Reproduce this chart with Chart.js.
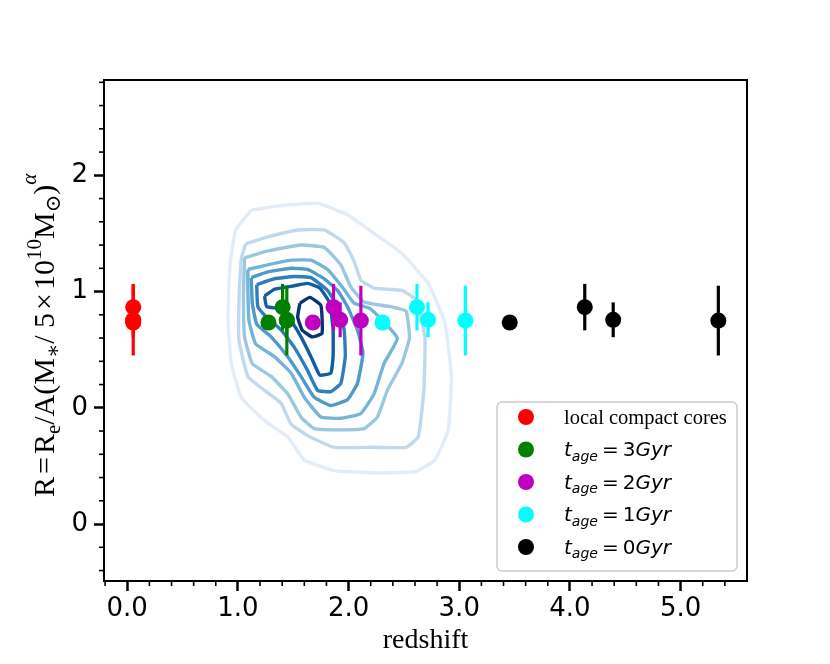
<!DOCTYPE html>
<html><head><meta charset="utf-8">
<script src="https://cdn.jsdelivr.net/npm/chart.js@4.4.1/dist/chart.umd.min.js"></script>
<style>html,body{margin:0;padding:0;background:#fff}canvas{display:block}</style>
</head><body>
<canvas id="c" width="830" height="664"></canvas>
<script>
// ---------- data ----------
const xTickValues = [0, 1, 2, 3, 4, 5];
const xTickLabels = ['0.0', '1.0', '2.0', '3.0', '4.0', '5.0'];
const yTickValues = [-1, 0, 1, 2];
const yTickLabels = ['0', '0', '1', '2'];

const seriesNames = ['local compact cores', 't_age = 3Gyr', 't_age = 2Gyr', 't_age = 1Gyr', 't_age = 0Gyr'];
const seriesAges = [null, 3, 2, 1, 0];

const localX = [0.054, 0.054, 0.054, 0.054];
const localY = [0.734, 0.866, 0.757, 0.750];
const localErr = [0, 0.20, 0.15, 0.30];

const age3X = [1.276, 1.404, 1.442, 1.442];
const age3Y = [0.734, 0.866, 0.757, 0.750];
const age3Err = [0, 0.20, 0.15, 0.30];

const age2X = [1.677, 1.864, 1.924, 2.111];
const age2Y = [0.734, 0.866, 0.757, 0.750];
const age2Err = [0, 0.20, 0.15, 0.30];

const age1X = [2.307, 2.618, 2.718, 3.055];
const age1Y = [0.734, 0.866, 0.757, 0.750];
const age1Err = [0, 0.20, 0.15, 0.30];

const age0X = [3.456, 4.134, 4.391, 5.341];
const age0Y = [0.734, 0.866, 0.757, 0.750];
const age0Err = [0, 0.20, 0.15, 0.30];

// density contours (outermost -> innermost), [redshift, R]
const contour0 = [[1.12,1.70],[1.39,1.74],[1.72,1.76],[1.99,1.66],[2.23,1.50],[2.48,1.33],[2.72,1.07],[2.87,0.73],[2.93,0.27],[2.90,-0.19],[2.78,-0.45],[2.60,-0.55],[2.23,-0.56],[1.87,-0.54],[1.60,-0.45],[1.45,-0.25],[1.24,-0.11],[1.03,0.09],[0.94,0.38],[0.91,0.78],[0.93,1.24],[0.98,1.53],[1.12,1.70]];
const contour1 = [[1.07,1.41],[1.27,1.47],[1.54,1.53],[1.78,1.53],[1.96,1.42],[2.05,1.26],[2.11,1.10],[2.23,1.03],[2.48,1.01],[2.61,0.93],[2.69,0.61],[2.68,0.15],[2.63,-0.25],[2.52,-0.34],[2.23,-0.34],[1.87,-0.34],[1.65,-0.25],[1.48,-0.14],[1.39,0.04],[1.24,0.15],[1.09,0.27],[1.01,0.58],[1.01,0.93],[1.03,1.28],[1.07,1.41]];
const contour2 = [[1.06,1.29],[1.27,1.35],[1.57,1.40],[1.78,1.38],[1.93,1.23],[2.02,1.04],[2.14,0.91],[2.38,0.87],[2.52,0.83],[2.55,0.60],[2.48,0.38],[2.35,0.15],[2.26,-0.08],[2.14,-0.18],[1.93,-0.19],[1.69,-0.18],[1.57,-0.08],[1.45,0.12],[1.30,0.27],[1.13,0.38],[1.06,0.61],[1.05,0.96],[1.06,1.29]];
const contour3 = [[1.09,1.19],[1.27,1.23],[1.48,1.27],[1.66,1.27],[1.81,1.19],[1.95,1.03],[2.05,0.90],[2.20,0.85],[2.44,0.60],[2.32,0.38],[2.23,0.12],[2.11,-0.05],[1.93,-0.09],[1.75,-0.08],[1.60,0.09],[1.48,0.30],[1.33,0.44],[1.16,0.55],[1.10,0.75],[1.09,1.01],[1.09,1.19]];
const contour4 = [[1.12,1.12],[1.27,1.17],[1.48,1.20],[1.63,1.19],[1.78,1.11],[1.90,1.01],[1.99,0.87],[2.08,0.67],[2.13,0.47],[2.08,0.21],[1.99,0.07],[1.84,0.02],[1.69,0.09],[1.57,0.27],[1.45,0.44],[1.30,0.61],[1.17,0.72],[1.13,0.90],[1.12,1.12]];
const contour5 = [[1.17,1.06],[1.33,1.11],[1.51,1.13],[1.66,1.12],[1.81,1.01],[1.90,0.87],[1.96,0.67],[1.97,0.44],[1.93,0.21],[1.84,0.14],[1.72,0.15],[1.63,0.32],[1.51,0.52],[1.39,0.67],[1.26,0.78],[1.18,0.87],[1.17,1.06]];
const contour6 = [[1.24,0.96],[1.33,1.02],[1.51,1.05],[1.63,1.07],[1.74,1.03],[1.83,0.90],[1.86,0.67],[1.86,0.44],[1.84,0.30],[1.74,0.28],[1.66,0.44],[1.57,0.61],[1.48,0.75],[1.39,0.85],[1.26,0.87],[1.24,0.96]];
const contour7 = [[1.56,0.90],[1.65,0.95],[1.75,0.88],[1.76,0.64],[1.67,0.61],[1.58,0.67],[1.54,0.78],[1.56,0.90]];

// y-axis title pieces: [text, 0=normal 1=subscript 2=superscript 3=operator]
const yTitleParts = [['R',0],['=',3],['R',0],['e',1],['/A(M',0],['\u2217',1],['/ 5',0],['\u00d7',3],['10',0],['10',2],['M',0],['\u2299',1],[')',0],['\u03b1',2]];

// ---------- styles ----------
const seriesColors = ['#ff0000', '#008000', '#bf00bf', '#00ffff', '#000000'];
const contourColors = ['#e2edf8', '#c1d9ee', '#9cc7e1', '#76b3d8', '#4e9acb', '#2f7ebb', '#135ca3', '#0a3370'];

const pointSets = [
  [localX, localY, localErr], [age3X, age3Y, age3Err], [age2X, age2Y, age2Err],
  [age1X, age1Y, age1Err], [age0X, age0Y, age0Err]
];
const contours = [contour0, contour1, contour2, contour3, contour4, contour5, contour6, contour7];

const datasets = [];
pointSets.forEach((s, i) => {
  datasets.push({
    label: seriesNames[i],
    data: s[0].map((x, j) => ({x: x, y: s[1][j]})),
    yErr: s[2],
    backgroundColor: seriesColors[i],
    borderColor: seriesColors[i],
    pointRadius: 8, pointHoverRadius: 8, pointBorderWidth: 0,
    showLine: false, order: 0
  });
});
contours.forEach((c, i) => {
  datasets.push({
    label: 'contour' + i,
    data: c.map(p => ({x: p[0], y: p[1]})),
    borderColor: contourColors[i],
    backgroundColor: contourColors[i],
    borderWidth: 3.4, pointRadius: 0, showLine: true, fill: false,
    tension: 0.12, borderJoinStyle: 'round', order: 20 - i
  });
});

// ---------- plugins ----------
const errorBars = {
  id: 'errorBars',
  beforeDatasetDraw(chart, args) {
    const ds = chart.data.datasets[args.index];
    if (!ds.yErr) return;
    const ctx = chart.ctx, xs = chart.scales.x, ys = chart.scales.y;
    ctx.save();
    ctx.strokeStyle = ds.borderColor;
    ctx.lineWidth = 3.2;
    ds.data.forEach((p, j) => {
      const e = ds.yErr[j];
      if (!e) return;
      const px = xs.getPixelForValue(p.x);
      ctx.beginPath();
      ctx.moveTo(px, ys.getPixelForValue(p.y - e));
      ctx.lineTo(px, ys.getPixelForValue(p.y + e));
      ctx.stroke();
    });
    ctx.restore();
  }
};

const frameAndMinor = {
  id: 'frameAndMinor',
  afterDraw(chart) {
    const ctx = chart.ctx, a = chart.chartArea, xs = chart.scales.x, ys = chart.scales.y;
    ctx.save();
    ctx.strokeStyle = '#000';
    ctx.lineWidth = 1.6;
    for (let k = -1; k <= 28; k++) {
      const v = k * 0.2;
      if (Math.abs(v - Math.round(v)) < 1e-6) continue;
      if (v < xs.min || v > xs.max) continue;
      const px = xs.getPixelForValue(v);
      ctx.beginPath(); ctx.moveTo(px, a.bottom); ctx.lineTo(px, a.bottom + 5); ctx.stroke();
    }
    for (let k = -8; k <= 15; k++) {
      const v = k * 0.2;
      if (Math.abs(v - Math.round(v)) < 1e-6) continue;
      if (v < ys.min || v > ys.max) continue;
      const py = ys.getPixelForValue(v);
      ctx.beginPath(); ctx.moveTo(a.left, py); ctx.lineTo(a.left - 5, py); ctx.stroke();
    }
    ctx.lineWidth = 2;
    ctx.strokeRect(a.left, a.top, a.right - a.left, a.bottom - a.top);
    ctx.restore();
  }
};

const yTitle = {
  id: 'yTitle',
  afterDraw(chart) {
    const ctx = chart.ctx;
    ctx.save();
    ctx.translate(54, 497);
    ctx.rotate(-Math.PI / 2);
    ctx.fillStyle = '#000';
    ctx.textBaseline = 'alphabetic';
    const S = 30, s = 21;
    let x = 0;
    yTitleParts.forEach(([t, k]) => {
      const size = (k === 1 || k === 2) ? s : S;
      const ital = t === '\u03b1' ? 'italic ' : '';
      ctx.font = ital + size + 'px "Liberation Serif", "DejaVu Serif", serif';
      const dy = k === 1 ? 6 : (k === 2 ? (t === '\u03b1' ? -18 : -13) : 0);
      if (k === 3) x += S * 0.1;
      ctx.fillText(t, x, dy);
      x += ctx.measureText(t).width;
      if (k === 3) x += S * 0.1;
    });
    ctx.restore();
  }
};

const legendBox = {
  id: 'legendBox',
  afterDraw(chart) {
    const ctx = chart.ctx, a = chart.chartArea;
    const w = 240, h = 169;
    const x0 = a.right - 10 - w, y0 = a.bottom - 10 - h;
    ctx.save();
    ctx.beginPath();
    if (ctx.roundRect) ctx.roundRect(x0, y0, w, h, 5); else ctx.rect(x0, y0, w, h);
    ctx.fillStyle = 'rgba(255,255,255,0.9)';
    ctx.fill();
    ctx.strokeStyle = '#cccccc';
    ctx.lineWidth = 1.5;
    ctx.stroke();
    ctx.textBaseline = 'alphabetic';
    seriesNames.forEach((name, i) => {
      const cy = y0 + 15 + i * 32.5;
      ctx.beginPath();
      ctx.arc(x0 + 29, cy, 8, 0, Math.PI * 2);
      ctx.fillStyle = seriesColors[i];
      ctx.fill();
      ctx.fillStyle = '#000';
      const b = cy + 6.8;
      let x = x0 + 67;
      if (seriesAges[i] === null) {
        ctx.font = '20.5px "Liberation Serif", serif';
        ctx.fillText(name, x, b);
      } else {
        ctx.font = 'italic 20px "DejaVu Sans"';
        ctx.fillText('t', x, b); x += ctx.measureText('t').width;
        ctx.font = 'italic 14px "DejaVu Sans"';
        ctx.fillText('age', x, b + 4.5); x += ctx.measureText('age').width + 4;
        ctx.font = '20px "DejaVu Sans"';
        ctx.fillText('=', x, b); x += ctx.measureText('=').width + 4;
        const d = String(seriesAges[i]);
        ctx.fillText(d, x, b); x += ctx.measureText(d).width;
        ctx.font = 'italic 20px "DejaVu Sans"';
        ctx.fillText('Gyr', x, b);
      }
    });
    ctx.restore();
  }
};

// ---------- chart ----------
const tickFont = {family: 'DejaVu Sans', size: 26};
new Chart(document.getElementById('c'), {
  type: 'scatter',
  data: {datasets: datasets},
  options: {
    responsive: false, animation: false, devicePixelRatio: 1,
    layout: {padding: {left: 0, top: 80, right: 83, bottom: 0}},
    plugins: {legend: {display: false}, tooltip: {enabled: false}},
    scales: {
      x: {
        type: 'linear', min: -0.21, max: 5.6,
        afterBuildTicks: s => { s.ticks = xTickValues.map(v => ({value: v})); },
        afterFit: s => { s.height = 83; },
        ticks: {font: tickFont, color: '#000', padding: 3, autoSkip: false, maxRotation: 0,
          callback: v => xTickLabels[xTickValues.indexOf(v)]},
        grid: {display: true, drawOnChartArea: false, drawTicks: true, tickLength: 10, tickWidth: 2.5, tickColor: '#000'},
        border: {display: false},
        title: {display: true, text: 'redshift', color: '#000',
          font: {family: 'Liberation Serif', size: 28}, padding: {top: 0, bottom: 7}}
      },
      y: {
        type: 'linear', min: -1.49, max: 2.82,
        afterBuildTicks: s => { s.ticks = yTickValues.map(v => ({value: v})); },
        afterFit: s => { s.width = 104; },
        ticks: {font: tickFont, color: '#000', padding: 6, autoSkip: false,
          callback: v => yTickLabels[yTickValues.indexOf(v)]},
        grid: {display: true, drawOnChartArea: false, drawTicks: true, tickLength: 10, tickWidth: 2.5, tickColor: '#000'},
        border: {display: false}
      }
    }
  },
  plugins: [errorBars, frameAndMinor, yTitle, legendBox]
});
</script>
</body></html>
